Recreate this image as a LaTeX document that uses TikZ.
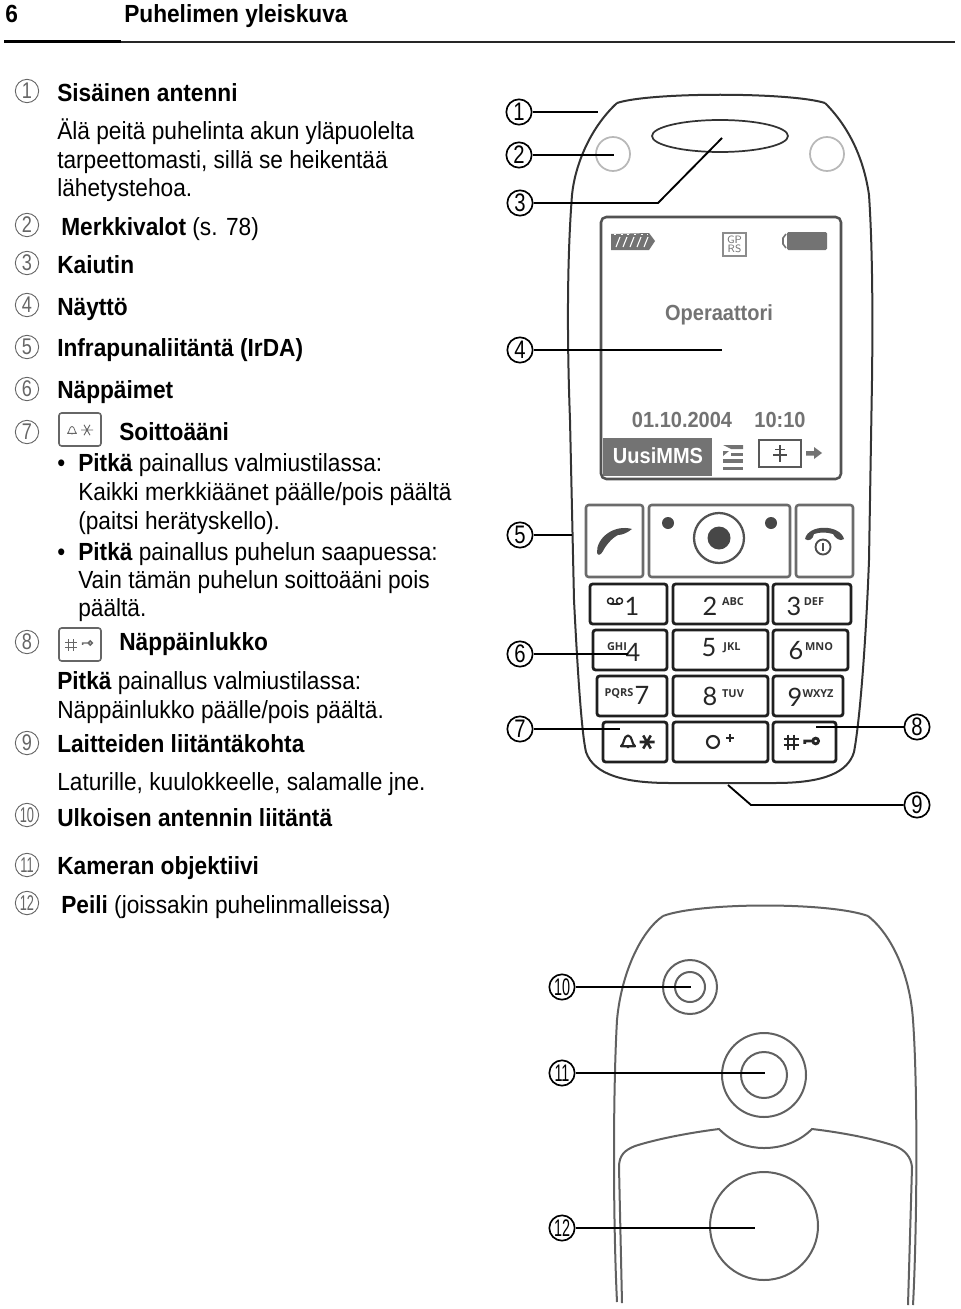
\documentclass[tikz,border=0pt]{standalone}
\usepackage{fontspec}
\setmainfont{Liberation Sans}
\newfontfamily\bd[FakeStretch=0.915]{Liberation Sans}
\newfontfamily\cn[FakeStretch=0.8]{Liberation Sans}
\newfontfamily\cnn[FakeStretch=0.6]{Liberation Sans}
\newfontfamily\dg{Lato}
\newfontfamily\sm{Open Sans}
\newcommand\bdsz{\bd\fontsize{18.6}{22}\selectfont}
\definecolor{scr}{gray}{0.45}
\definecolor{body}{gray}{0.2}
\definecolor{numg}{gray}{0.4}
\tikzset{
  tx/.style={anchor=base west,inner sep=0pt,font=\bdsz,text=black},
  cnum/.style={circle,draw=black,line width=1.25pt,minimum size=19pt,inner sep=0pt,font=\cn\fontsize{19}{19}\selectfont,fill=white},
  cnumw/.style={cnum,font=\cnn\fontsize{18}{18}\selectfont},
  lnum/.style={circle,draw=numg,line width=0.7pt,minimum size=17.5pt,inner sep=0pt,text=numg,font=\cn\fontsize{17}{17}\selectfont},
  lnumw/.style={lnum,font=\cnn\fontsize{16}{16}\selectfont},
  lead/.style={line width=1.4pt,black},
  outl/.style={line width=1.5pt,body},
  backl/.style={line width=1.5pt,black!62},
  keyb/.style={line width=2.1pt,black!88,rounded corners=2pt},
  softb/.style={line width=1.9pt,black!58,rounded corners=2pt},
  big/.style={inner sep=0pt,font=\dg\fontsize{19}{19}\selectfont,text=black!85},
  lab/.style={inner sep=0pt,font=\sm\bfseries\fontsize{8.2}{9}\selectfont,text=black!80},
  scrt/.style={inner sep=0pt,font=\bd\bfseries\fontsize{16.4}{20}\selectfont,text=scr},
}
\newcommand\bellic[5]{\draw[#5,line width=#4,shift={(#1,#2)},scale=#3,line join=round] (-1,.75) .. controls (-.5,.4) and (-.65,-.7) .. (0,-.8) .. controls (.65,-.7) and (.5,.4) .. (1,.75) -- cycle (0,.75) -- (0,1);}
\newcommand\staric[5]{\draw[#5,line width=#4,shift={(#1,#2)},scale=#3] (-1,0) -- (1,0) (-.5,-.87) -- (.5,.87) (-.5,.87) -- (.5,-.87);}
\newcommand\hashic[5]{\draw[#5,line width=#4,shift={(#1,#2)},scale=#3] (-.4,-1) -- (-.4,1) (.4,-1) -- (.4,1) (-1,-.4) -- (1,-.4) (-1,.4) -- (1,.4);}
\newcommand\keyic[5]{\draw[#5,line width=#4,shift={(#1,#2)},scale=#3] (.9,0) circle (.55) (.35,0) -- (-1.2,0) -- (-1.2,.55);}
\begin{document}
\begin{tikzpicture}[x=0.75pt,y=-0.75pt]
\useasboundingbox (0,0) rectangle (960,1309);
\fill[white] (0,0) rectangle (960,1309);
% header
\node[tx,font=\bd\bfseries\fontsize{18.6}{20}\selectfont] (hnum) at (5,23) {6};
\node[tx,font=\bd\bfseries\fontsize{18.6}{20}\selectfont] (htitle) at (124,23) {Puhelimen yleiskuva};
\fill[black] (4,40) rectangle (121,43);
\draw[line width=1pt,black!85] (121,42) -- (955,42);
% list text
\node[tx] (a1) at (57,102) {\bfseries Sisäinen antenni};
\node[tx] (a2) at (57,140) {Älä peitä puhelinta akun yläpuolelta};
\node[tx] (a3) at (57,168) {tarpeettomasti, sillä se heikentää};
\node[tx] (a4) at (57,196) {lähetystehoa.};
\node[tx] (a5) at (61,235) {\bfseries Merkkivalot \mdseries (s. 78)};
\node[tx] (a6) at (57,273) {\bfseries Kaiutin};
\node[tx] (a7) at (57,315) {\bfseries Näyttö};
\node[tx] (a8) at (57,356) {\bfseries Infrapunaliitäntä (IrDA)};
\node[tx] (a9) at (57,398) {\bfseries Näppäimet};
\node[tx] (a10) at (119,440) {\bfseries Soittoääni};
\node[tx] (b1) at (57,471) {•};
\node[tx] (a11) at (78,471) {\textbf{Pitkä} painallus valmiustilassa:};
\node[tx] (a12) at (78,500) {Kaikki merkkiäänet päälle/pois päältä};
\node[tx] (a13) at (78,529) {(paitsi herätyskello).};
\node[tx] (b2) at (57,560) {•};
\node[tx] (a14) at (78,560) {\textbf{Pitkä} painallus puhelun saapuessa:};
\node[tx] (a15) at (78,588) {Vain tämän puhelun soittoääni pois};
\node[tx] (a16) at (78,616) {päältä.};
\node[tx] (a17) at (119,650) {\bfseries Näppäinlukko};
\node[tx] (a18) at (57,689) {\textbf{Pitkä} painallus valmiustilassa:};
\node[tx] (a19) at (57,718) {Näppäinlukko päälle/pois päältä.};
\node[tx] (a20) at (57,752) {\bfseries Laitteiden liitäntäkohta};
\node[tx] (a21) at (57,790) {Laturille, kuulokkeelle, salamalle jne.};
\node[tx] (a22) at (57,826) {\bfseries Ulkoisen antennin liitäntä};
\node[tx] (a23) at (57,874) {\bfseries Kameran objektiivi};
\node[tx] (a24) at (61,913) {\textbf{Peili} (joissakin puhelinmalleissa)};
% list numbers
\node[lnum] (l1) at (27,91) {1};
\node[lnum] (l2) at (27,225) {2};
\node[lnum] (l3) at (27,263) {3};
\node[lnum] (l4) at (27,305) {4};
\node[lnum] (l5) at (27,347) {5};
\node[lnum] (l6) at (27,389) {6};
\node[lnum] (l7) at (27,432) {7};
\node[lnum] (l8) at (27,642) {8};
\node[lnum] (l9) at (27,743) {9};
\node[lnumw] (l10) at (27,815) {10};
\node[lnumw] (l11) at (27,865) {11};
\node[lnumw] (l12) at (27,903) {12};
% list key icons
\draw[line width=1.2pt,black!60,rounded corners=2pt] (59,413) rectangle (101,446);
\bellic{72}{430}{4.5}{0.6pt}{black!60}
\staric{87}{430}{6}{0.7pt}{black!60}
\draw[line width=1.2pt,black!60,rounded corners=2pt] (59,628) rectangle (101,661);
\hashic{71}{645}{6}{0.6pt}{black!60}
\keyic{87}{643}{3.6}{1.1pt}{black!60}
% front phone body
\draw[outl] (617,103) .. controls (650,92) and (790,92) .. (825,103);
\draw[outl,line join=round] (617,103) .. controls (590,128) and (575,165) .. (572,195) .. controls (567,260) and (567,340) .. (570,420) -- (574,600) .. controls (578,680) and (582,735) .. (586,752) .. controls (594,775) and (625,783) .. (670,783) -- (775,783) .. controls (825,783) and (848,772) .. (854,752) .. controls (860,720) and (866,640) .. (869,560) -- (872,380) .. controls (873,300) and (872,240) .. (869,195) .. controls (864,160) and (850,128) .. (825,103);
\draw[line width=1.3pt,body] (720,136) ellipse (68 and 16);
\draw[line width=1.3pt,black!28] (613,154) circle (17);
\draw[line width=1.3pt,black!28] (827,154) circle (17);
% screen
\draw[line width=1.9pt,black!68,rounded corners=4pt] (601,217) rectangle (841,479);
\fill[scr] (611,234) -- (649,233) -- (655,241) -- (649,250) -- (611,250) -- cycle;
\foreach \q in {620,627,634,641,648}{\draw[white,line width=0.8pt] (\q,237) -- (\q-4,247);}
\draw[white,line width=1pt,dash pattern=on 1.5pt off 3.5pt] (614,234.5) -- (648,234.5);
\draw[line width=1.1pt,black!45] (723,233) rectangle (746,256);
\node[inner sep=0pt,font=\sffamily\fontsize{8}{8}\selectfont,text=scr] (gp) at (734.5,239.5) {GP};
\node[inner sep=0pt,font=\sffamily\fontsize{8}{8}\selectfont,text=scr] (rs) at (734.5,249) {RS};
\fill[scr,rounded corners=1pt] (787,232) rectangle (827,250);
\draw[scr,line width=1.2pt] (786,234) -- (783,238) -- (783,244) -- (786,248);
\node[scrt] (op) at (719,315) {Operaattori};
\node[scrt] (dt) at (682,420) {01.10.2004};
\node[scrt] (tm) at (780,420) {10:10};
\fill[scr] (603,438) rectangle (712,476);
\node[scrt,text=white] (mms) at (658,456) {UusiMMS};
\fill[scr] (723,445) -- (743,445) -- (743,449) -- (731,449) -- cycle;
\fill[scr] (723,451) -- (729,451) -- (723,456) -- cycle;
\fill[scr] (731,453) rectangle (743,456);
\fill[scr] (723,459) rectangle (743,463);
\fill[scr] (723,467) rectangle (743,470);
\draw[line width=1.2pt,black!65] (759,440) rectangle (801,467);
\draw[line width=1.2pt,black!70] (780,445) -- (780,462) (775,449.5) -- (785,449.5) (773,455) -- (787,455);
\fill[scr] (806,451) -- (814,451) -- (814,447) -- (822,453) -- (814,459) -- (814,455.5) -- (806,455.5) -- cycle;
% soft keys
\draw[softb] (586,505) rectangle (643,577);
\draw[softb] (649,505) rectangle (790,577);
\draw[softb] (796,505) rectangle (853,577);
\fill[black!72] (668,523) circle (6);
\fill[black!72] (771,523) circle (6);
\draw[line width=1.7pt,black!68] (719,538) circle (25);
\fill[black!72] (719,538) circle (11.5);
\fill[black!70] (597,553) .. controls (596,538) and (614,524) .. (632,529) .. controls (627,533) and (622,535) .. (618,535) .. controls (612,538) and (606,545) .. (603,551) .. controls (601,555) and (598,556) .. (597,553) -- cycle;
\fill[black!70] (805,539) .. controls (808,524) and (840,524) .. (844,539) .. controls (840,542) and (835,538) .. (833,534) .. controls (826,532) and (820,532) .. (814,534) .. controls (813,539) and (809,542) .. (805,539) -- cycle;
\draw[line width=1.4pt,black!70] (823,547) circle (7.5);
\draw[line width=1.9pt,black!70] (823,543) -- (823,551);
% number keys
\foreach \xa/\ya/\xb/\yb in {590/584/667/624,673/584/768/624,773/584/851/624,
 593/630/667/670,673/630/768/670,773/630/848/670,
 597/676/667/716,673/676/768/716,773/676/843/716,
 603/722/667/762,673/722/768/762,773/722/836/762}
  {\draw[keyb] (\xa,\ya) rectangle (\xb,\yb);}
\node[big] (k1) at (632,606) {1};
\draw[line width=1.1pt,black!85] (610.5,601) circle (3) (619.5,601) circle (3);
\draw[line width=1.1pt,black!85] (610.5,604) -- (619.5,604);
\node[big] (k2) at (710,606) {2};
\node[lab] (k2a) at (733,602) {ABC};
\node[big] (k3) at (794,606) {3};
\node[lab] (k3a) at (814,602) {DEF};
\node[lab] (k4a) at (617,647) {GHI};
\node[big] (k4) at (633,652) {4};
\node[big] (k5) at (709,648) {5};
\node[lab] (k5a) at (732,648) {JKL};
\node[big] (k6) at (796,651) {6};
\node[lab] (k6a) at (819,647) {MNO};
\node[lab] (k7a) at (619,693) {PQRS};
\node[big] (k7) at (642,695) {7};
\node[big] (k8) at (710,696) {8};
\node[lab] (k8a) at (733,694) {TUV};
\node[big] (k9) at (795,697) {9};
\node[lab] (k9a) at (818,694) {WXYZ};
\bellic{628}{741}{7}{1.6pt}{black!85}
\staric{647}{742}{7.5}{1.9pt}{black!85}
\draw[line width=1.6pt,black!85] (713,742) circle (6);
\draw[line width=1.5pt,black!85] (726,738) -- (734,738) (730,734) -- (730,742);
\hashic{791}{742}{7.5}{1.5pt}{black!85}
\keyic{811}{741}{5.2}{2.1pt}{black!85}
% back phone
\draw[backl] (663,916) .. controls (700,902) and (830,902) .. (868,916);
\draw[backl] (663,916) .. controls (640,932) and (621,975) .. (617,1020) .. controls (613,1090) and (613,1220) .. (617,1302);
\draw[backl] (868,916) .. controls (892,935) and (910,975) .. (913,1020) .. controls (918,1090) and (917,1230) .. (913,1305);
\draw[backl] (622,1303) -- (619,1167) .. controls (619,1155) and (625,1150) .. (635,1146) .. controls (660,1138) and (695,1132) .. (719,1129) .. controls (733,1143) and (748,1148) .. (764,1148) .. controls (780,1148) and (798,1143) .. (812,1129) .. controls (838,1132) and (872,1138) .. (895,1146) .. controls (905,1150) and (911,1157) .. (912,1167) -- (908,1305);
\draw[backl] (690,987) circle (27);
\draw[backl] (690,987) circle (15);
\draw[backl] (764,1075) circle (42);
\draw[backl] (764,1075) circle (23);
\draw[backl] (764,1226) circle (54);
% leaders
\coordinate (c1) at (598,111);
\coordinate (c2) at (614,155);
\coordinate (c3a) at (658,203);
\coordinate (c3) at (722,138);
\coordinate (c4) at (722,349);
\coordinate (c5) at (572,534);
\coordinate (c6) at (628,655);
\coordinate (c7) at (620,728);
\coordinate (c8) at (816,728);
\coordinate (c9a) at (751,804);
\coordinate (c9) at (728,785);
\coordinate (c10) at (691,986);
\coordinate (c11) at (765,1073);
\coordinate (c12) at (755,1228);
\node[cnum] (n1) at (519,112) {1};
\node[cnum] (n2) at (519,155) {2};
\node[cnum] (n3) at (520,203) {3};
\node[cnum] (n4) at (520,350) {4};
\node[cnum] (n5) at (520,535) {5};
\node[cnum] (n6) at (520,654) {6};
\node[cnum] (n7) at (520,729) {7};
\node[cnum] (n8) at (917,727) {8};
\node[cnum] (n9) at (917,805) {9};
\node[cnumw] (n10) at (562,987) {10};
\node[cnumw] (n11) at (562,1073) {11};
\node[cnumw] (n12) at (562,1228) {12};
\draw[lead] (n1) -- (n1 -| c1);
\draw[lead] (n2) -- (n2 -| c2);
\draw[lead] (n3) -- (n3 -| c3a) -- (c3);
\draw[lead] (n4) -- (n4 -| c4);
\draw[lead] (n5) -- (n5 -| c5);
\draw[lead] (n6) -- (n6 -| c6);
\draw[lead] (n7) -- (n7 -| c7);
\draw[lead] (n8) -- (n8 -| c8);
\draw[lead] (n9) -- (n9 -| c9a) -- (c9);
\draw[lead] (n10) -- (n10 -| c10);
\draw[lead] (n11) -- (n11 -| c11);
\draw[lead] (n12) -- (n12 -| c12);
\end{tikzpicture}
\end{document}
